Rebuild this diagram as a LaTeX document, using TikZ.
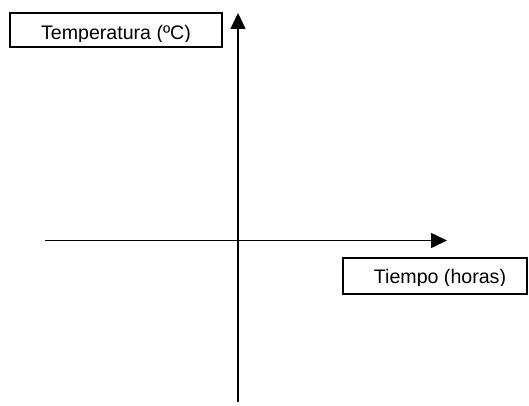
\documentclass[tikz,border=0pt]{standalone}
\usepackage{fontspec}
\setmainfont{Liberation Sans}
\usepackage{tikz}
\usetikzlibrary{arrows.meta,positioning}

\begin{document}
\begin{tikzpicture}[x=1pt,y=1pt, >={Triangle[length=16pt,width=15pt]}, line width=1.6pt,
        caja/.style={draw,rectangle,inner sep=0pt},
        etiqueta/.style={inner sep=0pt,font=\fontsize{19.6}{22}\selectfont}]
        \useasboundingbox (0,0) rectangle (529,405);
        % ejes
        \coordinate (x_0) at (45,164.5);
        \coordinate (x_1) at (447,164.5);
        \coordinate (y_0) at (238,3);
        \coordinate (y_1) at (238,392);

        \path[->]   (x_0) edge (x_1)
                    (y_0) edge (y_1);

        % cajas de texto
        \node[caja,minimum width=212,minimum height=34]   (temp)  at (116,375)  {};
        \node[caja,minimum width=184,minimum height=36]   (tiem)  at (435,129)  {};
        \begin{scope}
                \clip ([yshift=6]temp.south west) rectangle (temp.north east);
                \node[etiqueta,anchor=base]   (temp_t)  at (116,365.5)  {Temperatura (ºC)};
        \end{scope}
        \begin{scope}
                \clip ([yshift=9]tiem.south west) rectangle (tiem.north east);
                \node[etiqueta,anchor=base]   (tiem_t)  at (440,122)    {Tiempo (horas)};
        \end{scope}
\end{tikzpicture}
\end{document}
